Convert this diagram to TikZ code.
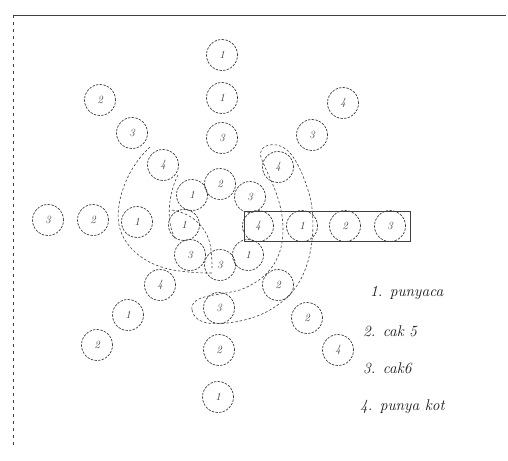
\documentclass[tikz,border=0pt]{standalone}
\usepackage{fontspec}
\begin{document}
\begin{tikzpicture}[x=1pt,y=-1pt,
  ink/.style={draw=black!75, line width=0.7pt},
  ball/.style={ink, circle, dash pattern=on 2.4pt off 1.3pt, minimum size=31pt, inner sep=0pt, font=\fontsize{11}{11}\selectfont\itshape, text=black!80},
  sketch/.style={ink, dash pattern=on 2.5pt off 2pt, line width=0.6pt},
  legend/.style={anchor=west, font=\fontsize{15.5}{15.5}\selectfont\itshape, text=black!90, inner sep=0pt}]
\fill[white] (0,0) rectangle (508,460);
\useasboundingbox (0,0) rectangle (508,460);
% frame
\coordinate (tl) at (13,15);
\coordinate (tr) at (506,15);
\coordinate (bl) at (13,445);
\draw[ink, line width=0.9pt] (tl) -- (tr);
\draw[ink, dash pattern=on 3pt off 4pt, line width=0.5pt] (tl) -- (bl);
% top arm
\node[ball] (t1) at (222,55) {1};
\node[ball] (t2) at (222,98) {1};
\node[ball] (t3) at (222,138) {3};
% upper left arm
\node[ball] (ul1) at (100,100) {2};
\node[ball] (ul2) at (132,133) {3};
\node[ball] (ul3) at (163,165) {4};
% upper right arm
\node[ball] (ur1) at (343,103) {4};
\node[ball] (ur2) at (312,135) {3};
\node[ball] (ur3) at (278,167) {4};
% left arm
\node[ball] (l1) at (48,220) {3};
\node[ball] (l2) at (93,220) {2};
\node[ball] (l3) at (137,222) {1};
% right arm (boxed)
\node[ball] (r1) at (258,226) {4};
\node[ball] (r2) at (302,226) {1};
\node[ball] (r3) at (345,226) {2};
\node[ball] (r4) at (390,226) {3};
\draw[ink, line width=0.8pt] (244,211) rectangle (410,241);
% lower left arm
\node[ball] (ll1) at (97,345) {2};
\node[ball] (ll2) at (128,315) {1};
\node[ball] (ll3) at (160,285) {4};
% lower right arm
\node[ball] (lr1) at (278,285) {2};
\node[ball] (lr2) at (307,318) {2};
\node[ball] (lr3) at (338,350) {4};
% bottom arm
\node[ball] (b1) at (219,308) {3};
\node[ball] (b2) at (219,350) {2};
\node[ball] (b3) at (218,397) {1};
% inner ring
\node[ball] (i1) at (220,184) {2};
\node[ball] (i2) at (250,197) {3};
\node[ball] (i3) at (248,255) {1};
\node[ball] (i4) at (220,265) {3};
\node[ball] (i5) at (190,255) {3};
\node[ball] (i6) at (184,225) {1};
\node[ball] (i7) at (192,195) {1};
% dashed groupings
\draw[sketch] (150,147) .. controls (125,170) and (115,205) .. (119,225)
  .. controls (124,250) and (150,268) .. (180,271)
  .. controls (195,273) and (205,273) .. (213,273);
\draw[sketch] (178,175) .. controls (170,190) and (164,220) .. (176,240);
\draw[sketch] (172,210) .. controls (195,214) and (209,230) .. (211,250)
  .. controls (212,258) and (212,263) .. (212,268);
\draw[sketch] (192,310) .. controls (195,325) and (215,326) .. (240,321)
  .. controls (270,315) and (295,297) .. (305,270)
  .. controls (315,245) and (315,210) .. (308,190)
  .. controls (300,165) and (290,147) .. (277,145)
  .. controls (265,143) and (257,150) .. (262,160)
  .. controls (270,180) and (283,200) .. (283,230)
  .. controls (283,255) and (272,278) .. (240,290)
  .. controls (220,295) and (205,295) .. (197,300)
  .. controls (193,303) and (191,306) .. (192,310);
% legend
\node[legend] (k1) at (370,293) {1. punyaca};
\node[legend] (k2) at (363,331) {2. cak 5};
\node[legend] (k3) at (363,368) {3. cak6};
\node[legend] (k4) at (360,407) {4. punya kot};
\end{tikzpicture}
\end{document}
